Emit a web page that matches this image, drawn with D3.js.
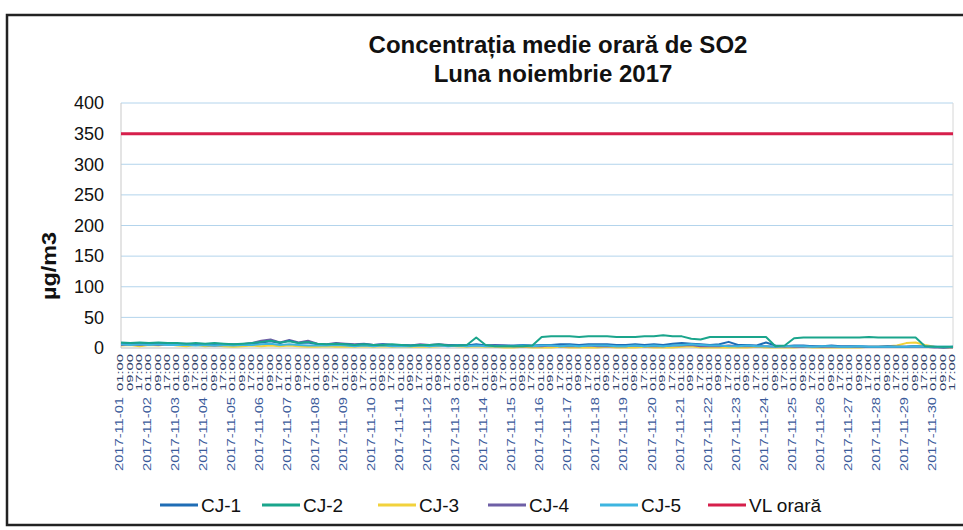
<!DOCTYPE html>
<html>
<head>
<meta charset="utf-8">
<script src="https://cdn.jsdelivr.net/npm/d3@7"></script>
<style>
  html, body { margin: 0; padding: 0; background: #fff; }
  svg { display: block; font-family: "Liberation Sans", Arial, sans-serif; }
</style>
</head>
<body>
<svg id="chart" width="963" height="530"></svg>
<script>
// ---------- DATA (readings every 8 hours: 01:00, 09:00, 17:00) ----------
const days = d3.range(1, 31).map(d => "2017-11-" + String(d).padStart(2, "0"));
const hours = ["01:00", "09:00", "17:00"];
const yTicks = [0, 50, 100, 150, 200, 250, 300, 350, 400];
const seriesNames = ["CJ-1", "CJ-2", "CJ-3", "CJ-4", "CJ-5", "VL orară"];
const seriesColors = ["#1f6db5", "#1aa58c", "#f2d23c", "#6e5fa6", "#3db5e0", "#d61f4b"];
const vlOrara = 350;

const cj1 = [8,7,8, 7,8,7, 7,7,6, 6,7,6, 6,5,7, 9,11,8, 12,8,9, 6,5,7, 6,5,6, 5,6,5,
             5,4,5, 4,5,4, 5,4,6, 4,4,4, 4,5,4, 5,5,6, 6,5,6, 6,6,5, 5,6,5, 6,5,7,
             8,7,6, 5,6,10, 5,5,4, 9,4,3, 4,4,3, 3,4,3, 3,3,2, 2,3,2, 2,3,2, 2,1,2];
const cj2 = [9,8,9, 8,9,8, 8,7,8, 7,8,7, 6,7,8, 10,12,9, 11,8,10, 7,6,7, 6,5,6, 5,5,6,
             5,4,5, 5,6,4, 4,5,17, 5,3,3, 3,3,4, 18,19,19, 19,18,19, 19,19,18, 18,18,19, 19,21,19,
             19,15,14, 18,18,18, 18,18,18, 18,3,4, 16,17,17, 17,17,17, 17,17,18, 17,17,17, 17,17,3, 2,2,2];
const cj3 = [4,5,3, 5,4,6, 4,3,5, 3,4,3, 2,3,4, 3,4,3, 4,3,2, 2,3,2, 2,2,3, 2,3,2,
             3,2,2, 2,3,4, 3,2,3, 2,2,1, 1,2,1, 1,1,2, 1,1,1, 1,2,1, 1,1,2, 1,1,1,
             2,3,1, 1,1,1, 1,1,2, 1,1,1, 1,2,1, 1,1,1, 1,1,2, 2,3,4, 8,9,5, 2,1,1];
const cj4 = [5,6,5, 6,5,6, 5,6,5, 5,4,5, 5,6,8, 12,14,9, 13,9,12, 7,6,8, 7,6,7, 5,6,5,
             5,4,6, 5,6,5, 5,4,5, 4,5,4, 3,3,3, 3,4,3, 3,3,4, 3,3,3, 3,4,3, 3,3,4,
             4,5,3, 3,3,4, 3,3,3, 3,2,3, 2,2,3, 2,2,2, 2,2,2, 2,2,2, 2,3,2, 1,1,1];
const cj5 = [6,5,6, 5,6,5, 5,5,4, 5,4,5, 4,5,5, 6,7,5, 6,5,4, 4,4,5, 4,3,4, 3,4,3,
             3,3,4, 3,4,3, 4,3,4, 3,3,3, 3,4,3, 4,4,3, 4,3,4, 4,4,3, 3,4,3, 4,3,4,
             5,6,5, 4,4,3, 3,4,3, 3,2,3, 3,3,2, 3,3,2, 2,3,2, 2,2,2, 2,3,2, 2,2,2];

// ---------- LAYOUT ----------
const svg = d3.select("#chart");
const m = { left: 121, right: 953, top: 103, bottom: 348 };
const n = days.length * hours.length;

const x = d3.scaleLinear().domain([0, n - 1]).range([m.left, m.right]);
const y = d3.scaleLinear().domain([0, 400]).range([m.bottom, m.top]);

// outer frame
svg.append("rect").attr("x", 7).attr("y", 15).attr("width", 1000).attr("height", 510)
  .attr("fill", "none").attr("stroke", "#222").attr("stroke-width", 2.5);

// title
const title = svg.append("g").attr("font-weight", "bold").attr("fill", "#111").attr("text-anchor", "middle");
title.append("text").attr("x", 558).attr("y", 53).attr("font-size", 24)
  .text("Concentrația medie orară de SO2");
title.append("text").attr("x", 553).attr("y", 82).attr("font-size", 24)
  .text("Luna noiembrie 2017");

// gridlines
svg.append("g").selectAll("line").data(yTicks.filter(t => t > 0)).join("line")
  .attr("x1", m.left).attr("x2", m.right)
  .attr("y1", d => y(d)).attr("y2", d => y(d))
  .attr("stroke", "#b3d4ec").attr("stroke-width", 1);

// plot borders (left/right light)
svg.append("line").attr("x1", m.left).attr("x2", m.left).attr("y1", m.top).attr("y2", m.bottom)
  .attr("stroke", "#c9c9c9");
svg.append("line").attr("x1", m.right).attr("x2", m.right).attr("y1", m.top).attr("y2", m.bottom)
  .attr("stroke", "#d6d6d6");

// y axis
const yAxis = d3.axisLeft(y).tickValues(yTicks).tickSize(0).tickPadding(17);
const gy = svg.append("g").attr("transform", `translate(${m.left},0)`).call(yAxis);
gy.select(".domain").remove();
gy.selectAll("text").attr("font-size", 18).attr("fill", "#111")
  .attr("font-family", "'Liberation Sans', Arial, sans-serif");

// y label
svg.append("text").attr("transform", `translate(56,266) rotate(-90)`)
  .attr("text-anchor", "middle").attr("font-size", 20).attr("font-weight", "bold").attr("fill", "#111")
  .attr("textLength", 68).attr("lengthAdjust", "spacingAndGlyphs").text("µg/m3");

// x axis line
svg.append("line").attr("x1", m.left).attr("x2", m.right).attr("y1", m.bottom).attr("y2", m.bottom)
  .attr("stroke", "#bdbdbd");

// x labels: hours
const hourLabels = [];
days.forEach((d, di) => hours.forEach((h, hi) => hourLabels.push({ i: di * 3 + hi, t: h })));
svg.append("g").selectAll("text").data(hourLabels).join("text")
  .attr("transform", d => `translate(${x(d.i) - 1},354) rotate(-90)`)
  .attr("text-anchor", "end").attr("dy", "0.35em")
  .attr("font-size", 9).attr("fill", "#2f3f6a")
  .attr("textLength", 37).attr("lengthAdjust", "spacingAndGlyphs")
  .text(d => d.t);

// x labels: dates
svg.append("g").selectAll("text").data(days).join("text")
  .attr("transform", (d, i) => `translate(${x(i * 3) - 2},397) rotate(-90)`)
  .attr("text-anchor", "end").attr("dy", "0.35em")
  .attr("font-size", 10.5).attr("fill", "#3a5a9a")
  .attr("textLength", 74).attr("lengthAdjust", "spacingAndGlyphs")
  .text(d => d);

// series lines
const line = d3.line().x((d, i) => x(i)).y(d => y(d));
const data = [cj1, cj2, cj3, cj4, cj5];
const drawOrder = [2, 3, 0, 4, 1];
drawOrder.forEach(k => {
  svg.append("path").datum(data[k]).attr("d", line)
    .attr("fill", "none").attr("stroke", seriesColors[k]).attr("stroke-width", 2)
    .attr("stroke-linejoin", "round");
});
// VL orară limit
svg.append("line").attr("x1", x(0)).attr("x2", x(n - 1)).attr("y1", y(vlOrara)).attr("y2", y(vlOrara))
  .attr("stroke", seriesColors[5]).attr("stroke-width", 3);

// legend
const legendX = [160, 262, 378, 488, 600, 708];
const lg = svg.append("g");
seriesNames.forEach((s, k) => {
  lg.append("line").attr("x1", legendX[k]).attr("x2", legendX[k] + 38)
    .attr("y1", 505).attr("y2", 505).attr("stroke", seriesColors[k]).attr("stroke-width", 3);
  lg.append("text").attr("x", legendX[k] + 41).attr("y", 512).attr("font-size", 19).attr("fill", "#111").text(s);
});
</script>
</body>
</html>
